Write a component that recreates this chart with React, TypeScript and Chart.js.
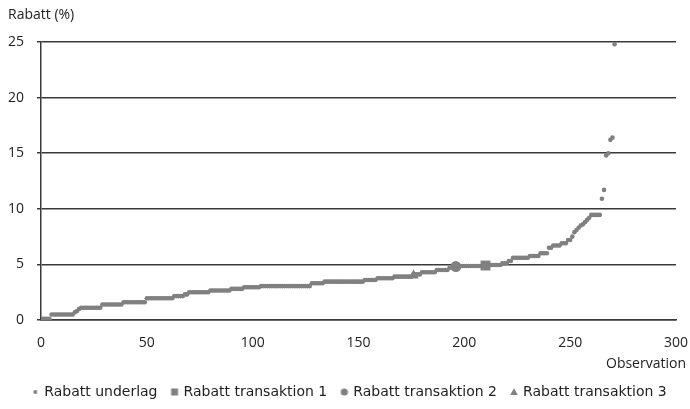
import React, { useEffect, useRef } from "react";
import { Chart, registerables } from "chart.js";

Chart.register(...registerables);

// Sorted discount values ("Rabatt underlag"), observation 1..271
const underlagValues: number[] = [
  0.1, 0.1, 0.1, 0.1, 0.5, 0.5, 0.5, 0.5, 0.5, 0.5,
  0.5, 0.5, 0.5, 0.5, 0.5, 0.7, 0.8, 1.0, 1.1, 1.1,
  1.1, 1.1, 1.1, 1.1, 1.1, 1.1, 1.1, 1.1, 1.4, 1.4,
  1.4, 1.4, 1.4, 1.4, 1.4, 1.4, 1.4, 1.4, 1.6, 1.6,
  1.6, 1.6, 1.6, 1.6, 1.6, 1.6, 1.6, 1.6, 1.6, 1.95,
  1.95, 1.95, 1.95, 1.95, 1.95, 1.95, 1.95, 1.95, 1.95, 1.95,
  1.95, 1.95, 2.15, 2.15, 2.15, 2.15, 2.15, 2.3, 2.3, 2.5,
  2.5, 2.5, 2.5, 2.5, 2.5, 2.5, 2.5, 2.5, 2.5, 2.65,
  2.65, 2.65, 2.65, 2.65, 2.65, 2.65, 2.65, 2.65, 2.65, 2.8,
  2.8, 2.8, 2.8, 2.8, 2.8, 2.95, 2.95, 2.95, 2.95, 2.95,
  2.95, 2.95, 2.95, 3.05, 3.05, 3.05, 3.05, 3.05, 3.05, 3.05,
  3.05, 3.05, 3.05, 3.05, 3.05, 3.05, 3.05, 3.05, 3.05, 3.05,
  3.05, 3.05, 3.05, 3.05, 3.05, 3.05, 3.05, 3.3, 3.3, 3.3,
  3.3, 3.3, 3.3, 3.45, 3.45, 3.45, 3.45, 3.45, 3.45, 3.45,
  3.45, 3.45, 3.45, 3.45, 3.45, 3.45, 3.45, 3.45, 3.45, 3.45,
  3.45, 3.45, 3.6, 3.6, 3.6, 3.6, 3.6, 3.6, 3.75, 3.75,
  3.75, 3.75, 3.75, 3.75, 3.75, 3.75, 3.9, 3.9, 3.9, 3.9,
  3.9, 3.9, 3.9, 3.9, 3.9, 4.1, 4.1, 4.1, 4.1, 4.3,
  4.3, 4.3, 4.3, 4.3, 4.3, 4.3, 4.5, 4.5, 4.5, 4.5,
  4.5, 4.5, 4.7, 4.7, 4.7, 4.7, 4.85, 4.85, 4.85, 4.85,
  4.85, 4.85, 4.85, 4.85, 4.85, 4.85, 4.85, 4.85, 4.85, 4.95,
  4.95, 4.95, 4.95, 4.95, 4.95, 4.95, 4.95, 5.1, 5.1, 5.1,
  5.3, 5.3, 5.6, 5.6, 5.6, 5.6, 5.6, 5.6, 5.6, 5.6,
  5.75, 5.75, 5.75, 5.75, 5.75, 6.0, 6.0, 6.0, 6.0, 6.5,
  6.5, 6.7, 6.7, 6.7, 6.7, 6.9, 6.9, 6.9, 7.2, 7.2,
  7.5, 7.9, 8.1, 8.3, 8.5, 8.6, 8.8, 9.0, 9.2, 9.45,
  9.45, 9.45, 9.45, 9.45, 10.9, 11.7, 14.8, 15.0, 16.2, 16.4,
  24.8,
];

const transaktion1X = [210];
const transaktion1Y = [4.9];
const transaktion2X = [196];
const transaktion2Y = [4.8];
const transaktion3X = [176];
const transaktion3Y = [4.0];

const seriesLabels = [
  "Rabatt underlag",
  "Rabatt transaktion 1",
  "Rabatt transaktion 2",
  "Rabatt transaktion 3",
];

const xMin = 0;
const xMax = 300;
const xStep = 50;
const yMin = 0;
const yMax = 25;
const yStep = 5;
const yTitle = "Rabatt (%)";
const xTitle = "Observation";

const GRAY = "#808080";
const TEXT = "#222222";
const LINE = "#3a3a3a";
const FONT = "'Open Sans', 'DejaVu Sans', sans-serif";
const LEGEND_FONT = "'DejaVu Sans', sans-serif";

function makeMarker(kind: string): HTMLCanvasElement {
  const c = document.createElement("canvas");
  const size = 10;
  c.width = size;
  c.height = size;
  const g = c.getContext("2d")!;
  g.fillStyle = GRAY;
  const m = size / 2;
  if (kind === "dot") {
    g.beginPath();
    g.arc(m, m, 2, 0, Math.PI * 2);
    g.fill();
  } else if (kind === "square") {
    g.fillRect(m - 3.5, m - 3.5, 7, 7);
  } else if (kind === "circle") {
    g.beginPath();
    g.arc(m, m, 3.6, 0, Math.PI * 2);
    g.fill();
  } else {
    g.beginPath();
    g.moveTo(m, m - 3.8);
    g.lineTo(m + 3.8, m + 3);
    g.lineTo(m - 3.8, m + 3);
    g.closePath();
    g.fill();
  }
  return c;
}

const titlesPlugin = {
  id: "axisTitles",
  afterLayout(chart: any) {
    // centre the legend row on the full canvas width, as in the reference
    const lg = chart.legend;
    if (lg) {
      lg.left += 12;
      lg.right += 12;
    }
  },
  afterDraw(chart: any) {
    const { ctx, chartArea } = chart;
    ctx.save();
    ctx.font = `14px ${FONT}`;
    ctx.fillStyle = TEXT;
    ctx.textBaseline = "middle";
    ctx.textAlign = "left";
    ctx.fillText(yTitle, 8, chartArea.top - 27);
    ctx.textAlign = "right";
    ctx.fillText(xTitle, chart.width - 4, chartArea.bottom + 44);
    ctx.restore();
  },
};

export default function App() {
  const canvasRef = useRef<HTMLCanvasElement | null>(null);

  useEffect(() => {
    if (!canvasRef.current) return;
    const markers = [
      makeMarker("dot"),
      makeMarker("square"),
      makeMarker("circle"),
      makeMarker("triangle"),
    ];
    const underlagData = underlagValues.map((v, i) => ({ x: i + 1, y: v }));
    const toPts = (xs: number[], ys: number[]) => xs.map((x, i) => ({ x, y: ys[i] }));

    const chart = new Chart(canvasRef.current, {
      type: "scatter",
      data: {
        datasets: [
          {
            label: seriesLabels[0],
            data: underlagData,
            pointStyle: "circle",
            pointRadius: 2.3,
            pointBorderWidth: 0,
            backgroundColor: GRAY,
            borderColor: GRAY,
            order: 1,
          },
          {
            label: seriesLabels[1],
            data: toPts(transaktion1X, transaktion1Y),
            pointStyle: "rect",
            pointRadius: 7,
            pointBorderWidth: 0,
            backgroundColor: GRAY,
            borderColor: GRAY,
            order: 0,
          },
          {
            label: seriesLabels[2],
            data: toPts(transaktion2X, transaktion2Y),
            pointStyle: "circle",
            pointRadius: 5.5,
            pointBorderWidth: 0,
            backgroundColor: GRAY,
            borderColor: GRAY,
            order: 0,
          },
          {
            label: seriesLabels[3],
            data: toPts(transaktion3X, transaktion3Y),
            pointStyle: "triangle",
            pointRadius: 6,
            pointBorderWidth: 0,
            backgroundColor: GRAY,
            borderColor: GRAY,
            order: 0,
          },
        ],
      },
      options: {
        responsive: false,
        animation: false,
        events: [],
        layout: { padding: { top: 42, right: 14, left: 0, bottom: 0 } },
        font: { family: FONT, size: 14 },
        plugins: {
          tooltip: { enabled: false },
          legend: {
            position: "bottom",
            labels: {
              usePointStyle: true,
              boxWidth: 4,
              boxHeight: 4,
              padding: 15,
              color: TEXT,
              font: { family: LEGEND_FONT, size: 14 },
              sort: (a: any, b: any) => a.datasetIndex - b.datasetIndex,
              generateLabels: (ch: any) =>
                Chart.defaults.plugins.legend.labels
                  .generateLabels(ch)
                  .map((l: any) => ({ ...l, pointStyle: markers[l.datasetIndex] })),
            },
          },
        },
        scales: {
          x: {
            type: "linear",
            min: xMin,
            max: xMax,
            ticks: {
              stepSize: xStep,
              color: TEXT,
              padding: 0,
              font: { family: FONT, size: 14 },
            },
            grid: { display: false, drawTicks: true, tickLength: 15 },
            border: { display: true, color: LINE, width: 1.5 },
            afterFit: (s: any) => {
              s.height = 50;
            },
          },
          y: {
            type: "linear",
            min: yMin,
            max: yMax,
            ticks: {
              stepSize: yStep,
              color: TEXT,
              padding: 13,
              font: { family: FONT, size: 14 },
            },
            grid: {
              color: LINE,
              lineWidth: 1.5,
              drawTicks: true,
              tickLength: 4,
            },
            border: { display: true, color: LINE, width: 1.5 },
            afterFit: (s: any) => {
              s.width = 41;
            },
          },
        },
      },
      plugins: [titlesPlugin],
    });
    return () => chart.destroy();
  }, []);

  return (
    <div style={{ position: "absolute", left: 0, top: 0, width: 690, height: 409, background: "#fff" }}>
      <canvas ref={canvasRef} width={690} height={409} />
    </div>
  );
}
